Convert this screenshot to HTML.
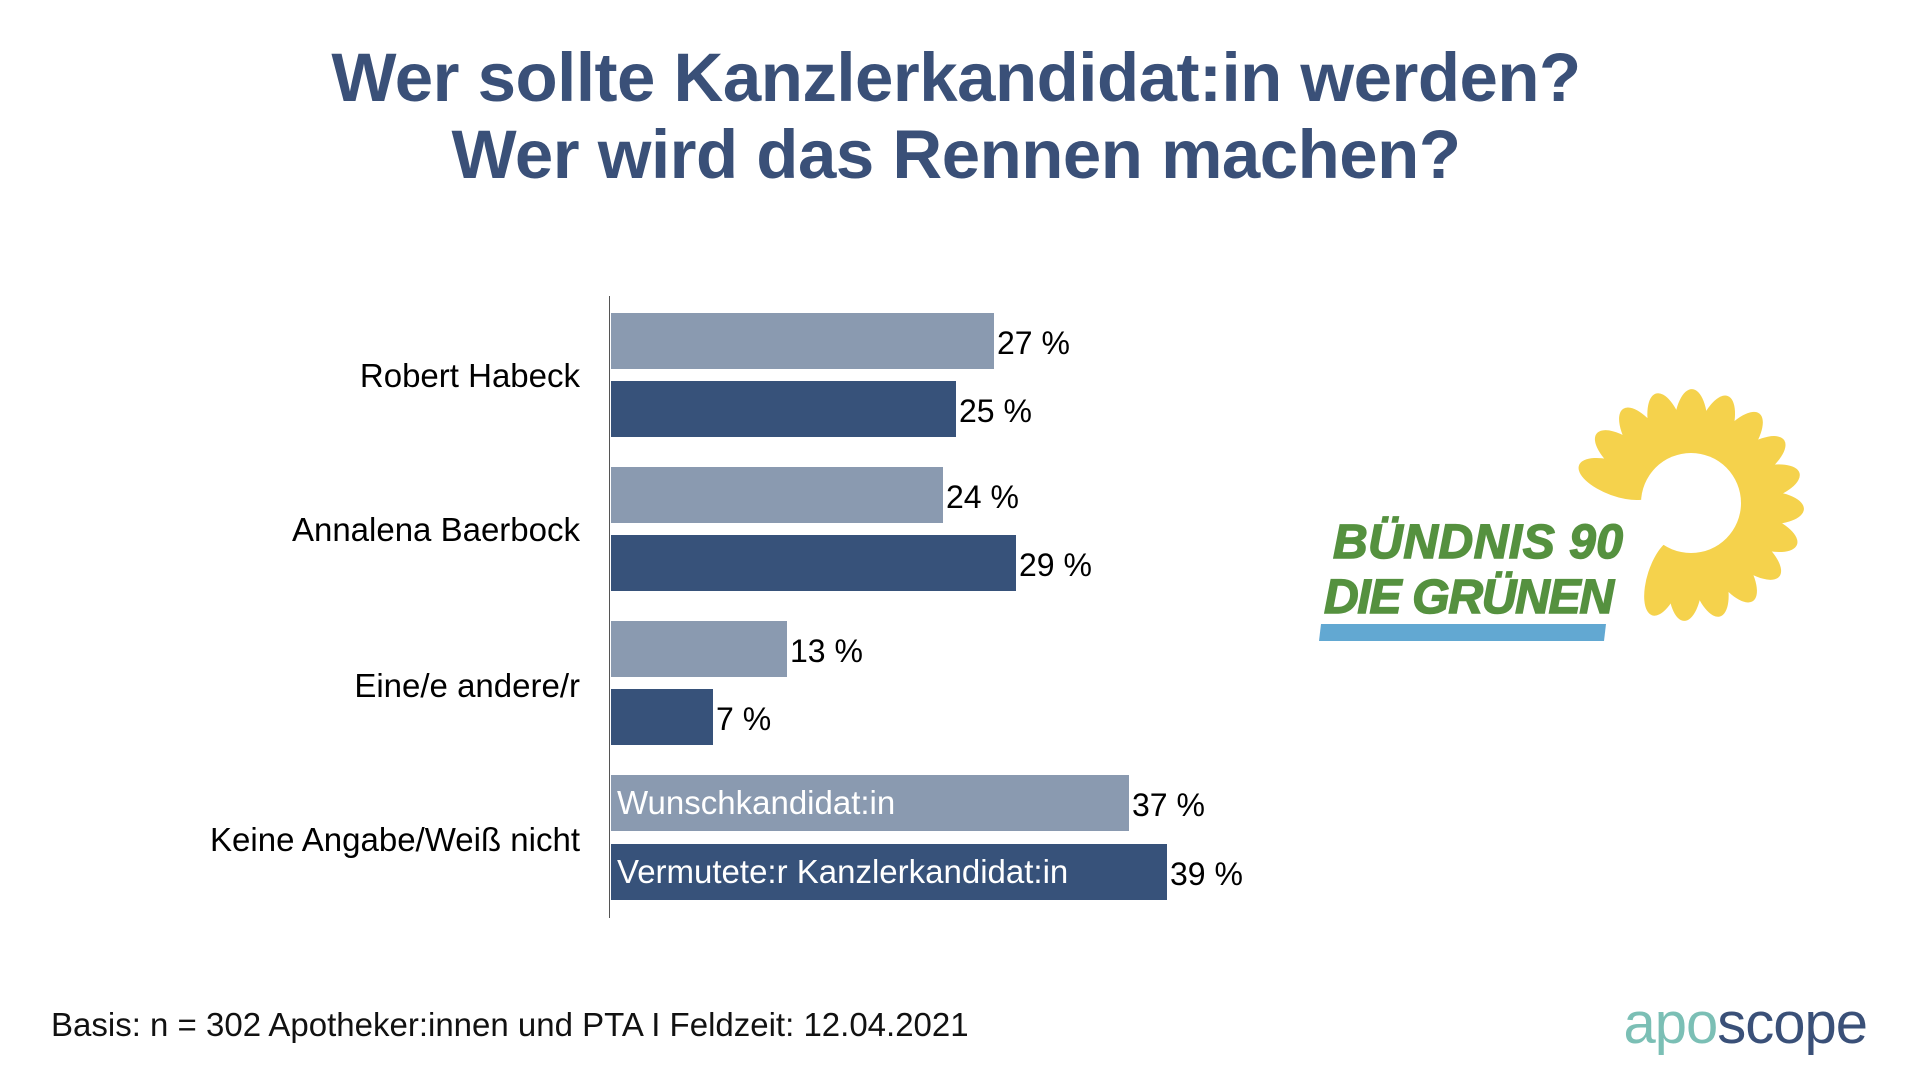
<!DOCTYPE html>
<html><head><meta charset="utf-8"><style>
body{margin:0;width:1920px;height:1080px;background:#fff;position:relative;overflow:hidden;font-family:"Liberation Sans",sans-serif}
.t{position:absolute;left:0;width:1912px;text-align:center;color:#3a5078;font-weight:bold;font-size:69px;letter-spacing:-0.5px}
.bar{position:absolute;left:611px;height:56px}
.l{background:#8a9ab0}.d{background:#37527a}
.v{position:absolute;font-size:32px;color:#000;line-height:56px}
.c{position:absolute;right:1340px;font-size:33px;color:#000;transform:translateY(-50%);white-space:nowrap}
.in{color:#fff;font-size:33px;line-height:56px;padding-left:6px;box-sizing:border-box}
</style></head><body>
<div class="t" style="top:38px">Wer sollte Kanzlerkandidat:in werden?</div>
<div class="t" style="top:115px">Wer wird das Rennen machen?</div>
<div style="position:absolute;left:609px;top:296px;width:1px;height:622px;background:#555"></div>
<div class="c" style="top:376px">Robert Habeck</div>
<div class="c" style="top:530px">Annalena Baerbock</div>
<div class="c" style="top:686px">Eine/e andere/r</div>
<div class="c" style="top:840px">Keine Angabe/Weiß nicht</div>
<div class="bar l" style="top:313px;width:383px"></div><div class="v" style="left:997px;top:315px">27 %</div>
<div class="bar d" style="top:381px;width:345px"></div><div class="v" style="left:959px;top:383px">25 %</div>
<div class="bar l" style="top:467px;width:332px"></div><div class="v" style="left:946px;top:469px">24 %</div>
<div class="bar d" style="top:535px;width:405px"></div><div class="v" style="left:1019px;top:537px">29 %</div>
<div class="bar l" style="top:621px;width:176px"></div><div class="v" style="left:790px;top:623px">13 %</div>
<div class="bar d" style="top:689px;width:102px"></div><div class="v" style="left:716px;top:691px">7 %</div>
<div class="bar l in" style="top:775px;width:518px">Wunschkandidat:in</div><div class="v" style="left:1132px;top:777px">37 %</div>
<div class="bar d in" style="top:844px;width:556px">Vermutete:r Kanzlerkandidat:in</div><div class="v" style="left:1170px;top:846px">39 %</div>
<svg style="position:absolute;left:0;top:0" width="1920" height="1080">
<g transform="translate(1688,505)" fill="#f5d24c">
<g transform="rotate(-160)"><ellipse cx="76" cy="0" rx="40" ry="17"/></g>
<g transform="rotate(-142)"><ellipse cx="76" cy="0" rx="40" ry="17"/></g>
<g transform="rotate(-124)"><ellipse cx="76" cy="0" rx="40" ry="17"/></g>
<g transform="rotate(-106)"><ellipse cx="76" cy="0" rx="40" ry="17"/></g>
<g transform="rotate(-88)"><ellipse cx="76" cy="0" rx="40" ry="17"/></g>
<g transform="rotate(-70)"><ellipse cx="76" cy="0" rx="40" ry="17"/></g>
<g transform="rotate(-52)"><ellipse cx="76" cy="0" rx="40" ry="17"/></g>
<g transform="rotate(-34)"><ellipse cx="76" cy="0" rx="40" ry="17"/></g>
<g transform="rotate(-16)"><ellipse cx="76" cy="0" rx="40" ry="17"/></g>
<g transform="rotate(2)"><ellipse cx="76" cy="0" rx="40" ry="17"/></g>
<g transform="rotate(20)"><ellipse cx="76" cy="0" rx="40" ry="17"/></g>
<g transform="rotate(38)"><ellipse cx="76" cy="0" rx="40" ry="17"/></g>
<g transform="rotate(56)"><ellipse cx="76" cy="0" rx="40" ry="17"/></g>
<g transform="rotate(74)"><ellipse cx="76" cy="0" rx="40" ry="17"/></g>
<g transform="rotate(92)"><ellipse cx="76" cy="0" rx="40" ry="17"/></g>
<g transform="rotate(108)"><ellipse cx="76" cy="0" rx="40" ry="17"/></g>
<circle r="50" fill="#fff" cx="3" cy="-2"/>
</g>
<polygon points="1321,624 1606,624 1604,641 1319,641" fill="#62a8d2"/>
<text x="1333" y="558" font-family="Liberation Sans" font-weight="bold" font-style="italic" font-size="48" fill="#55913f" textLength="290" stroke="#55913f" stroke-width="1.5">BÜNDNIS 90</text>
<text x="1324" y="613" font-family="Liberation Sans" font-weight="bold" font-style="italic" font-size="48" fill="#55913f" textLength="290" stroke="#55913f" stroke-width="1.5">DIE GRÜNEN</text>
</svg>
<div style="position:absolute;left:51px;top:1006px;font-size:33px;color:#111">Basis: n = 302 Apotheker:innen und PTA I Feldzeit: 12.04.2021</div>
<div style="position:absolute;right:53px;top:990px;font-size:58px;letter-spacing:-1px"><span style="color:#7bbfb5">apo</span><span style="color:#3a5078">scope</span></div>
</body></html>
